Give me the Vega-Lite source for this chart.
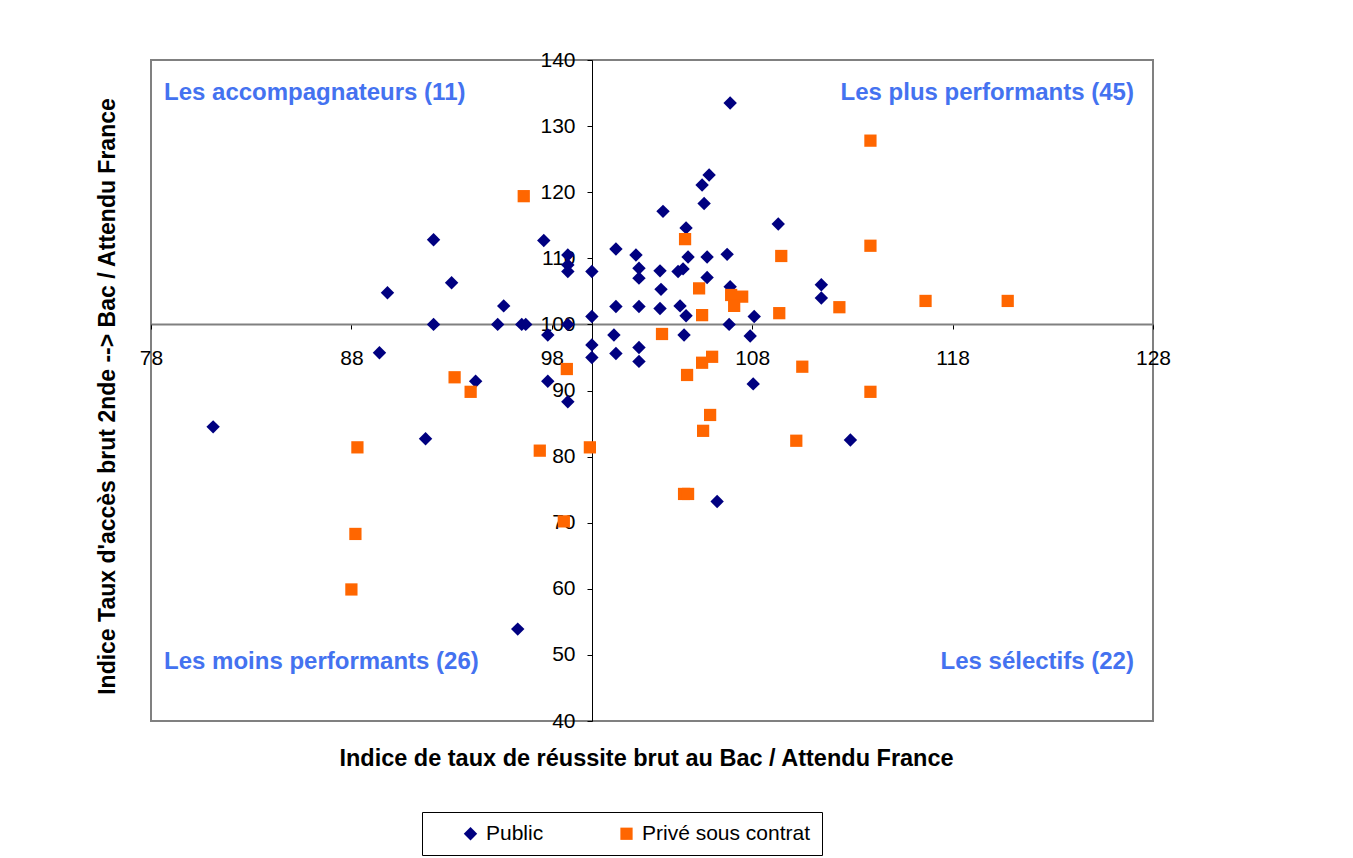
{
  "$schema": "https://vega.github.io/schema/vega-lite/v6.json",
  "width": 1002,
  "height": 661,
  "autosize": {"type": "none"},
  "padding": {"left": 151, "top": 60, "right": 200, "bottom": 137},
  "background": "white",
  "config": {
    "font": "Liberation Sans",
    "view": {"stroke": "#808080", "strokeWidth": 2}
  },
  "encoding": {
    "x": {
      "field": "x", "type": "quantitative",
      "scale": {"domain": [78, 128], "nice": false, "zero": false},
      "axis": {
        "title": "Indice de taux de réussite brut au Bac / Attendu France",
        "values": [78, 88, 98, 108, 118, 128],
        "offset": -397, "grid": false, "labelFlush": false,
        "labelFontSize": 21, "labelColor": "black", "labelPadding": 18,
        "tickSize": 5, "tickColor": "black",
        "domainColor": "#808080", "domainWidth": 2,
        "titleFontSize": 23.5, "titleFontWeight": "bold", "titleColor": "black",
        "titleX": 495, "titleY": 422
      }
    },
    "y": {
      "field": "y", "type": "quantitative",
      "scale": {"domain": [40, 140], "nice": false, "zero": false},
      "axis": {
        "title": "Indice Taux d'accès brut 2nde --> Bac / Attendu France",
        "values": [40, 50, 60, 70, 80, 90, 100, 110, 120, 130, 140],
        "offset": -441, "grid": false, "labelFlush": false,
        "labelFontSize": 21, "labelColor": "black", "labelPadding": 12,
        "tickSize": 5, "tickColor": "black",
        "domainColor": "black", "domainWidth": 1,
        "titleFontSize": 23, "titleFontWeight": "bold", "titleColor": "black",
        "titleX": -478, "titleY": 336, "titleBaseline": "alphabetic"
      }
    }
  },
  "layer": [
    {
      "data": {"values": [
        {"x": 81.1, "y": 84.5, "type": "Public"},
        {"x": 89.8, "y": 104.8, "type": "Public"},
        {"x": 89.4, "y": 95.7, "type": "Public"},
        {"x": 92.1, "y": 112.8, "type": "Public"},
        {"x": 93.0, "y": 106.3, "type": "Public"},
        {"x": 92.1, "y": 100, "type": "Public"},
        {"x": 91.7, "y": 82.7, "type": "Public"},
        {"x": 94.2, "y": 91.4, "type": "Public"},
        {"x": 95.6, "y": 102.8, "type": "Public"},
        {"x": 95.3, "y": 100, "type": "Public"},
        {"x": 96.5, "y": 100, "type": "Public"},
        {"x": 96.7, "y": 100, "type": "Public"},
        {"x": 96.3, "y": 53.9, "type": "Public"},
        {"x": 97.6, "y": 112.7, "type": "Public"},
        {"x": 97.8, "y": 98.4, "type": "Public"},
        {"x": 97.8, "y": 91.4, "type": "Public"},
        {"x": 98.8, "y": 110.5, "type": "Public"},
        {"x": 98.8, "y": 109.0, "type": "Public"},
        {"x": 98.8, "y": 108.0, "type": "Public"},
        {"x": 98.8, "y": 100, "type": "Public"},
        {"x": 98.8, "y": 88.3, "type": "Public"},
        {"x": 100, "y": 108.0, "type": "Public"},
        {"x": 100, "y": 101.2, "type": "Public"},
        {"x": 100, "y": 96.9, "type": "Public"},
        {"x": 100, "y": 95.0, "type": "Public"},
        {"x": 101.2, "y": 111.4, "type": "Public"},
        {"x": 102.2, "y": 110.5, "type": "Public"},
        {"x": 102.35, "y": 108.5, "type": "Public"},
        {"x": 102.35, "y": 107.0, "type": "Public"},
        {"x": 103.4, "y": 108.1, "type": "Public"},
        {"x": 103.45, "y": 105.3, "type": "Public"},
        {"x": 104.3, "y": 108.0, "type": "Public"},
        {"x": 104.55, "y": 108.4, "type": "Public"},
        {"x": 104.8, "y": 110.2, "type": "Public"},
        {"x": 103.55, "y": 117.1, "type": "Public"},
        {"x": 104.7, "y": 114.6, "type": "Public"},
        {"x": 101.2, "y": 102.7, "type": "Public"},
        {"x": 102.35, "y": 102.7, "type": "Public"},
        {"x": 103.4, "y": 102.4, "type": "Public"},
        {"x": 104.4, "y": 102.8, "type": "Public"},
        {"x": 104.7, "y": 101.3, "type": "Public"},
        {"x": 101.1, "y": 98.4, "type": "Public"},
        {"x": 104.6, "y": 98.4, "type": "Public"},
        {"x": 101.2, "y": 95.6, "type": "Public"},
        {"x": 102.35, "y": 96.5, "type": "Public"},
        {"x": 102.35, "y": 94.4, "type": "Public"},
        {"x": 106.9, "y": 133.5, "type": "Public"},
        {"x": 105.85, "y": 122.6, "type": "Public"},
        {"x": 105.5, "y": 121.1, "type": "Public"},
        {"x": 105.6, "y": 118.3, "type": "Public"},
        {"x": 109.3, "y": 115.2, "type": "Public"},
        {"x": 105.75, "y": 110.2, "type": "Public"},
        {"x": 106.75, "y": 110.6, "type": "Public"},
        {"x": 105.75, "y": 107.1, "type": "Public"},
        {"x": 106.9, "y": 105.7, "type": "Public"},
        {"x": 106.85, "y": 100, "type": "Public"},
        {"x": 108.1, "y": 101.2, "type": "Public"},
        {"x": 107.9, "y": 98.25, "type": "Public"},
        {"x": 108.05, "y": 91.0, "type": "Public"},
        {"x": 106.25, "y": 73.2, "type": "Public"},
        {"x": 111.45, "y": 106.0, "type": "Public"},
        {"x": 111.45, "y": 104.0, "type": "Public"},
        {"x": 112.9, "y": 82.5, "type": "Public"},
        {"x": 96.6, "y": 119.4, "type": "Privé sous contrat"},
        {"x": 98.75, "y": 93.25, "type": "Privé sous contrat"},
        {"x": 97.4, "y": 80.9, "type": "Privé sous contrat"},
        {"x": 99.9, "y": 81.4, "type": "Privé sous contrat"},
        {"x": 98.6, "y": 70.2, "type": "Privé sous contrat"},
        {"x": 88.3, "y": 81.4, "type": "Privé sous contrat"},
        {"x": 88.2, "y": 68.3, "type": "Privé sous contrat"},
        {"x": 88.0, "y": 59.9, "type": "Privé sous contrat"},
        {"x": 93.15, "y": 92.0, "type": "Privé sous contrat"},
        {"x": 93.95, "y": 89.8, "type": "Privé sous contrat"},
        {"x": 104.65, "y": 112.9, "type": "Privé sous contrat"},
        {"x": 103.5, "y": 98.55, "type": "Privé sous contrat"},
        {"x": 104.75, "y": 92.35, "type": "Privé sous contrat"},
        {"x": 105.35, "y": 105.45, "type": "Privé sous contrat"},
        {"x": 105.5, "y": 101.4, "type": "Privé sous contrat"},
        {"x": 105.5, "y": 94.2, "type": "Privé sous contrat"},
        {"x": 106.0, "y": 95.1, "type": "Privé sous contrat"},
        {"x": 106.95, "y": 104.45, "type": "Privé sous contrat"},
        {"x": 107.5, "y": 104.2, "type": "Privé sous contrat"},
        {"x": 107.1, "y": 102.8, "type": "Privé sous contrat"},
        {"x": 109.45, "y": 110.35, "type": "Privé sous contrat"},
        {"x": 109.35, "y": 101.7, "type": "Privé sous contrat"},
        {"x": 105.9, "y": 86.3, "type": "Privé sous contrat"},
        {"x": 105.55, "y": 83.9, "type": "Privé sous contrat"},
        {"x": 104.6, "y": 74.35, "type": "Privé sous contrat"},
        {"x": 104.8, "y": 74.35, "type": "Privé sous contrat"},
        {"x": 113.9, "y": 127.8, "type": "Privé sous contrat"},
        {"x": 113.9, "y": 111.9, "type": "Privé sous contrat"},
        {"x": 112.35, "y": 102.6, "type": "Privé sous contrat"},
        {"x": 116.65, "y": 103.55, "type": "Privé sous contrat"},
        {"x": 120.75, "y": 103.55, "type": "Privé sous contrat"},
        {"x": 110.5, "y": 93.6, "type": "Privé sous contrat"},
        {"x": 113.9, "y": 89.8, "type": "Privé sous contrat"},
        {"x": 110.2, "y": 82.4, "type": "Privé sous contrat"}
      ]},
      "mark": {"type": "point", "filled": true, "opacity": 1, "strokeWidth": 0},
      "encoding": {
        "color": {
          "field": "type", "type": "nominal",
          "scale": {"domain": ["Public", "Privé sous contrat"], "range": ["#000080", "#FF6600"]},
          "legend": {
            "title": null, "orient": "none", "legendX": 271, "legendY": 752,
            "direction": "horizontal", "strokeColor": "black", "padding": 11,
            "labelFontSize": 21, "labelColor": "black", "labelLimit": 400,
            "symbolSize": 170, "symbolOffset": 27, "labelOffset": 5,
            "columnPadding": 45, "symbolStrokeWidth": 0
          }
        },
        "shape": {
          "field": "type", "type": "nominal",
          "scale": {"domain": ["Public", "Privé sous contrat"], "range": ["diamond", "square"]}
        },
        "size": {
          "field": "type", "type": "nominal",
          "scale": {"domain": ["Public", "Privé sous contrat"], "range": [180, 150]},
          "legend": null
        }
      }
    },
    {
      "data": {"values": [
        {"x": 78.65, "y": 135.0, "label": "Les accompagnateurs (11)"},
        {"x": 78.65, "y": 49.0, "label": "Les moins performants (26)"}
      ]},
      "mark": {"type": "text", "align": "left", "baseline": "middle", "fontSize": 24, "fontWeight": "bold", "color": "#4472F0"},
      "encoding": {"text": {"field": "label"}}
    },
    {
      "data": {"values": [
        {"x": 127.05, "y": 135.0, "label": "Les plus performants (45)"},
        {"x": 127.05, "y": 49.0, "label": "Les sélectifs (22)"}
      ]},
      "mark": {"type": "text", "align": "right", "baseline": "middle", "fontSize": 24, "fontWeight": "bold", "color": "#4472F0"},
      "encoding": {"text": {"field": "label"}}
    }
  ]
}
